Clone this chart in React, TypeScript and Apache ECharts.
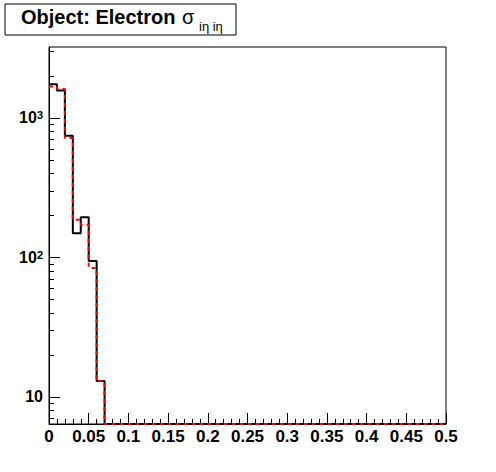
import React, { useEffect, useRef } from "react";
import * as echarts from "echarts";

// Histogram: 50 bins of width 0.01 from 0 to 0.5
const BIN_WIDTH = 0.01;
const X_MIN = 0;
const X_MAX = 0.5;
const Y_MIN = 6.4;
const Y_MAX = 3215;

// Black (solid) histogram counts per bin
const blackCounts = [
  1740, 1567, 744, 149, 194, 94, 13, 0, 0, 0,
  0, 0, 0, 0, 0, 0, 0, 0, 0, 0,
  0, 0, 0, 0, 0, 0, 0, 0, 0, 0,
  0, 0, 0, 0, 0, 0, 0, 0, 0, 0,
  0, 0, 0, 0, 0, 0, 0, 0, 0, 0,
];

// Red (dashed) histogram counts per bin
const redCounts = [
  1675, 1610, 716, 186, 171, 84, 13, 0, 0, 0,
  0, 0, 0, 0, 0, 0, 0, 0, 0, 0,
  0, 0, 0, 0, 0, 0, 0, 0, 0, 0,
  0, 0, 0, 0, 0, 0, 0, 0, 0, 0,
  0, 0, 0, 0, 0, 0, 0, 0, 0, 0,
];

const majorYTicks = [10, 100, 1000];
const minorYTicks = [7, 8, 9, 20, 30, 40, 50, 60, 70, 80, 90, 200, 300, 400, 500, 600, 700, 800, 900, 2000, 3000];

const FONT = "'Liberation Sans', Arial, sans-serif";

function toSteps(counts: number[]): number[][] {
  const pts: number[][] = [];
  counts.forEach((c, i) => {
    const y = c > 0 ? c : Y_MIN;
    pts.push([i * BIN_WIDTH, y]);
    pts.push([(i + 1) * BIN_WIDTH, y]);
  });
  return pts;
}

export default function App() {
  const ref = useRef<HTMLDivElement>(null);
  useEffect(() => {
    if (!ref.current) return;
    const chart = echarts.init(ref.current, null, { renderer: "svg" });
    chart.setOption({
      animation: false,
      backgroundColor: "#fff",
      grid: {
        left: 49,
        right: 50,
        top: 47,
        bottom: 48,
        show: true,
        borderColor: "#000",
        borderWidth: 1,
        backgroundColor: "transparent",
      },
      xAxis: {
        type: "value",
        min: X_MIN,
        max: X_MAX,
        interval: 0.05,
        axisLine: { show: true, onZero: false, lineStyle: { color: "#000", width: 1 } },
        axisTick: { show: true, inside: true, length: 11, lineStyle: { color: "#000", width: 1 } },
        minorTick: { show: true, splitNumber: 5, length: 5, lineStyle: { color: "#000", width: 1 } },
        splitLine: { show: false },
        axisLabel: {
          color: "#000",
          fontFamily: FONT,
          fontWeight: "bold",
          fontSize: 17,
          margin: 4,
          showMaxLabel: true,
          formatter: (v: number) => String(Number(v.toFixed(2))),
        },
      },
      yAxis: [
        {
          type: "log",
          logBase: 10,
          min: Y_MIN,
          max: Y_MAX,
          axisLine: { show: true, lineStyle: { color: "#000", width: 1 } },
          axisTick: { show: true, inside: true, length: 11, customValues: majorYTicks, lineStyle: { color: "#000", width: 1 } },
          splitLine: { show: false },
          axisLabel: {
            customValues: majorYTicks,
            margin: 6,
            formatter: (v: number) => {
              const p = Math.round(Math.log10(v));
              return p === 1 ? "{b|10}" : `{b|10}{sup|${p}}`;
            },
            rich: {
              b: { fontFamily: FONT, fontWeight: "bold", fontSize: 16, color: "#000" },
              sup: { fontFamily: FONT, fontWeight: "bold", fontSize: 11, color: "#000", verticalAlign: "top" },
            },
          },
        },
        {
          type: "log",
          logBase: 10,
          min: Y_MIN,
          max: Y_MAX,
          position: "left",
          axisLine: { show: false },
          axisTick: { show: true, inside: true, length: 5, customValues: minorYTicks, lineStyle: { color: "#000", width: 1 } },
          axisLabel: { show: false },
          splitLine: { show: false },
        },
      ],
      graphic: [
        {
          type: "rect",
          shape: { x: 5, y: 4, width: 231, height: 31 },
          style: { fill: "#fff", stroke: "#000", lineWidth: 1 },
          z: 100,
        },
        {
          type: "text",
          x: 21,
          y: 17,
          z: 101,
          style: { text: "Object: Electron", font: `bold 20px ${FONT}`, fill: "#000", verticalAlign: "middle" },
        },
        {
          type: "text",
          x: 182,
          y: 17,
          z: 101,
          style: { text: "σ", font: `20px ${FONT}`, fill: "#000", verticalAlign: "middle" },
        },
        {
          type: "text",
          x: 199,
          y: 26,
          z: 101,
          style: { text: "iη iη", font: `13px ${FONT}`, fill: "#000", verticalAlign: "middle" },
        },
      ],
      series: [
        {
          type: "line",
          xAxisIndex: 0,
          yAxisIndex: 0,
          data: toSteps(blackCounts),
          showSymbol: false,
          symbol: "none",
          lineStyle: { color: "#000", width: 2, type: "solid" },
          z: 2,
        },
        {
          type: "line",
          xAxisIndex: 0,
          yAxisIndex: 0,
          data: toSteps(redCounts),
          showSymbol: false,
          symbol: "none",
          lineStyle: { color: "#f00", width: 2, type: [4, 4] },
          z: 3,
        },
      ],
    });
    return () => chart.dispose();
  }, []);
  return (
    <div
      ref={ref}
      style={{ position: "fixed", left: 0, top: 0, width: 496, height: 472, background: "#fff" }}
    />
  );
}
